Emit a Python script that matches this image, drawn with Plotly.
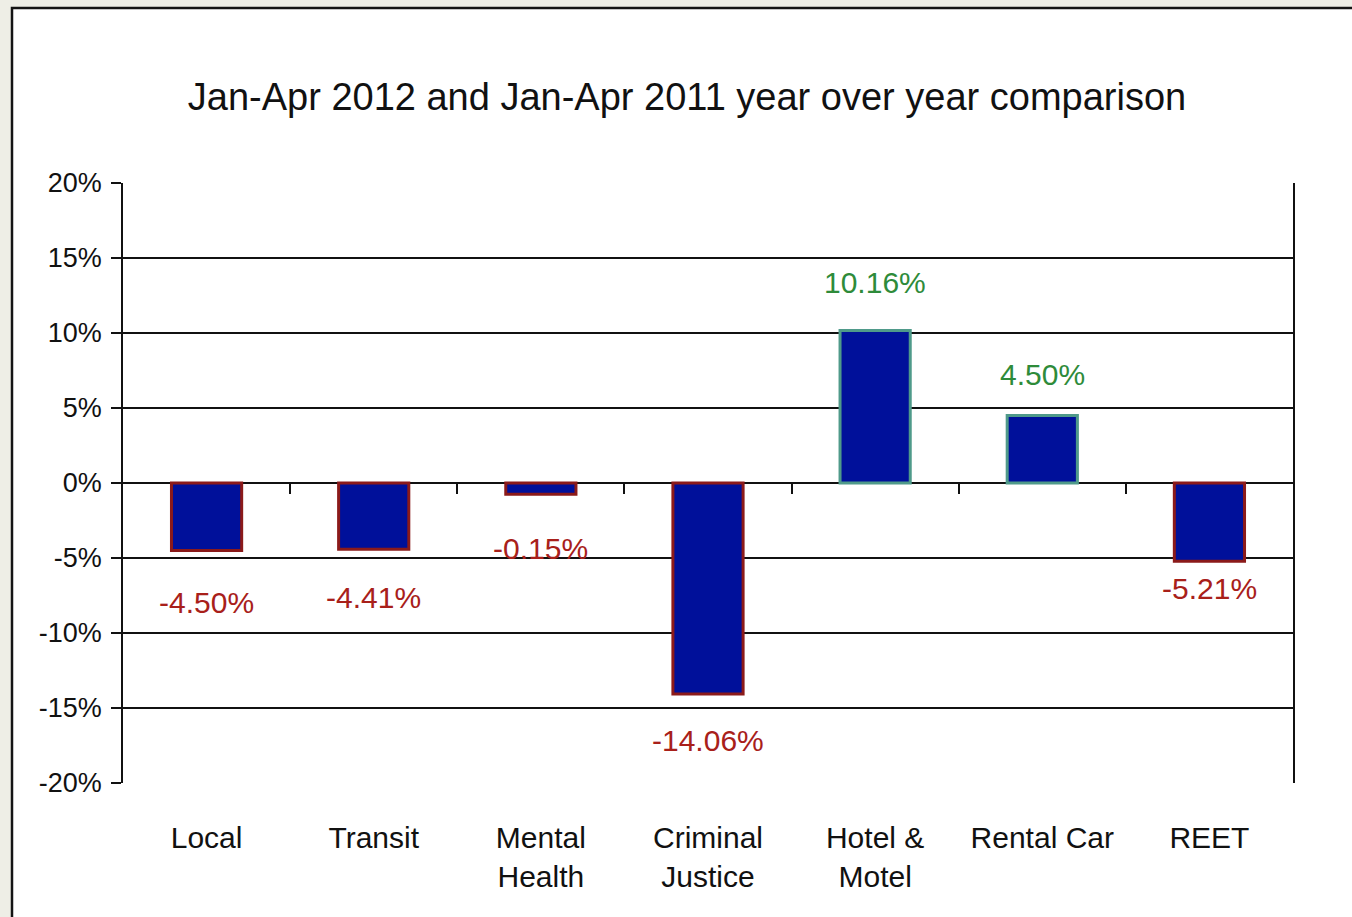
import plotly.graph_objects as go

# ---- data ----
categories = ["Local", "Transit", "Mental<br>Health", "Criminal<br>Justice",
              "Hotel &<br>Motel", "Rental Car", "REET"]
values = [-4.50, -4.41, -0.75, -14.06, 10.16, 4.50, -5.21]
labels = ["-4.50%", "-4.41%", "-0.15%", "-14.06%", "10.16%", "4.50%", "-5.21%"]
y_ticks = [-20, -15, -10, -5, 0, 5, 10, 15, 20]
y_tick_text = ["-20%", "-15%", "-10%", "-5%", "0%", "5%", "10%", "15%", "20%"]

# ---- styles ----
FONT = "Liberation Sans, Arial, sans-serif"
NEG_LINE = "#8b1a1a"
POS_LINE = "#4f9a8a"
NEG_TEXT = "#a8201a"
POS_TEXT = "#2e8b3a"
BAR_FILL = "#00109a"
BG = "#eeeee6"
label_shift = [-52, -48, -54, -47, 48, 41, -27]

W, H = 1352, 917
L, R, T, B = 123, 59, 183, 134

line_colors = [NEG_LINE if v < 0 else POS_LINE for v in values]
text_colors = [NEG_TEXT if v < 0 else POS_TEXT for v in values]

fig = go.Figure()
fig.add_trace(go.Bar(
    x=list(range(len(categories))), y=values,
    marker=dict(color=BAR_FILL, line=dict(color=line_colors, width=3)),
    width=0.42, hoverinfo="skip", showlegend=False,
))
# boundary ticks along the zero line
fig.add_trace(go.Scatter(x=[0, 7], y=[0, 0], xaxis="x2", yaxis="y",
                         mode="lines", line=dict(color="rgba(0,0,0,0)"),
                         hoverinfo="skip", showlegend=False))

for i, (lab, v) in enumerate(zip(labels, values)):
    fig.add_annotation(x=i, y=v, text=lab, showarrow=False,
                       yshift=label_shift[i], yanchor="middle",
                       font=dict(family=FONT, size=30, color=text_colors[i]))

# white framed panel
fig.add_shape(type="rect", xref="paper", yref="paper", layer="below",
              x0=(12 - L) / (W - L - R), x1=(W + 20 - L) / (W - L - R),
              y0=(H - B - (H + 20)) / (H - T - B), y1=(H - B - 8) / (H - T - B),
              fillcolor="white", line=dict(color="#141414", width=2.5))

fig.update_layout(
    width=W, height=H,
    margin=dict(l=L, r=R, t=T, b=B, pad=0),
    paper_bgcolor=BG, plot_bgcolor="white",
    font=dict(family=FONT, color="#111111"),
    title=dict(text="Jan-Apr 2012 and Jan-Apr 2011 year over year comparison",
               x=687 / W, xanchor="center", y=1 - 97 / H, yanchor="middle",
               font=dict(size=38, family=FONT, color="#111111")),
    bargap=0.58,
    xaxis=dict(range=[-0.5, 6.5], tickmode="array",
               tickvals=list(range(len(categories))), ticktext=categories,
               showgrid=False, zeroline=False, showline=False, ticks="",
               tickfont=dict(size=30, family=FONT, color="#111111"),
               ticklabelstandoff=34),
    xaxis2=dict(range=[0, 7], overlaying="x", anchor="free", position=0.5,
                side="bottom", tickmode="array", tickvals=[1, 2, 3, 4, 5, 6],
                ticks="outside", ticklen=10, tickwidth=1.5, tickcolor="#111111",
                showticklabels=False, showgrid=False, zeroline=False,
                showline=False),
    yaxis=dict(range=[-20, 20], tickmode="array", tickvals=y_ticks,
               ticktext=y_tick_text, showgrid=True, gridcolor="#111111",
               gridwidth=1.5, zeroline=False, showline=True, mirror=True,
               linecolor="#111111", linewidth=1.5, ticks="outside", ticklen=10,
               tickwidth=1.5, tickcolor="#111111",
               tickfont=dict(size=27, family=FONT, color="#111111"),
               ticklabelstandoff=4),
)

fig.write_html(
    "out.html",
    config={"displayModeBar": False},
    post_script="document.body.style.margin='0px';"
                "document.body.style.background='" + BG + "';",
)
